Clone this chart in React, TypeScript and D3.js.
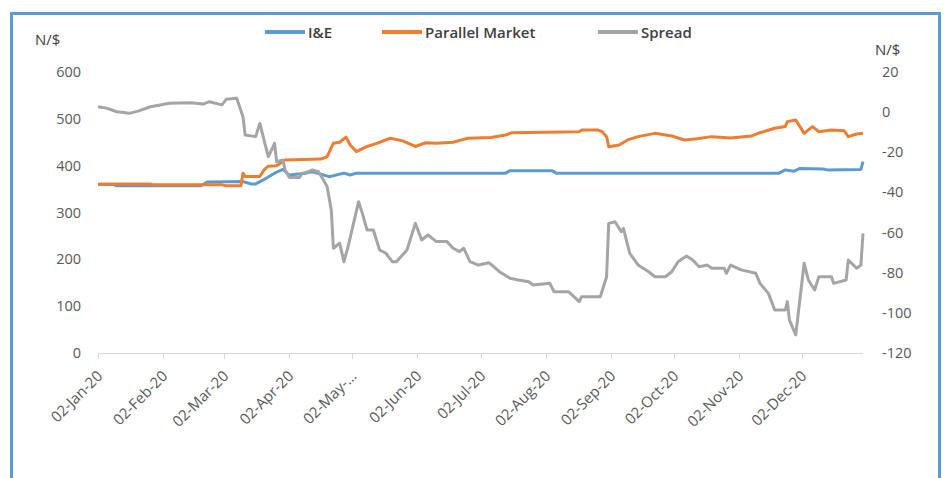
import React from 'react'
import * as d3 from 'd3'

// I&E window rate (N/$), left axis
const ieRate: [string, number][] = [
  ['2020-01-02', 360], ['2020-01-09', 360], ['2020-01-11', 357], ['2020-02-20', 357],
  ['2020-02-23', 365], ['2020-03-11', 366], ['2020-03-15', 361], ['2020-03-17', 361],
  ['2020-03-22', 373], ['2020-03-26', 384], ['2020-03-30', 392], ['2020-04-02', 380],
  ['2020-04-10', 384], ['2020-04-13', 387], ['2020-04-21', 376.5], ['2020-04-28', 384],
  ['2020-05-01', 380], ['2020-05-04', 384], ['2020-07-14', 384], ['2020-07-16', 389.4],
  ['2020-08-05', 389.4], ['2020-08-07', 384], ['2020-11-21', 384], ['2020-11-24', 391],
  ['2020-11-28', 388], ['2020-12-01', 394], ['2020-12-12', 393], ['2020-12-14', 391],
  ['2020-12-30', 392], ['2020-12-31', 408.5]
]

// parallel market rate (N/$), left axis
const parallelRate: [string, number][] = [
  ['2020-01-02', 361], ['2020-01-27', 361], ['2020-01-28', 359], ['2020-03-01', 359],
  ['2020-03-03', 357], ['2020-03-10', 357], ['2020-03-11', 384], ['2020-03-12', 377],
  ['2020-03-19', 377], ['2020-03-21', 391], ['2020-03-23', 399], ['2020-03-27', 400],
  ['2020-03-31', 412], ['2020-04-17', 414], ['2020-04-20', 419], ['2020-04-23', 448],
  ['2020-04-26', 450], ['2020-04-29', 461], ['2020-05-01', 444], ['2020-05-04', 430],
  ['2020-05-09', 441], ['2020-05-14', 448], ['2020-05-20', 458.5], ['2020-05-26', 453],
  ['2020-06-01', 441], ['2020-06-06', 449], ['2020-06-11', 448], ['2020-06-19', 450],
  ['2020-06-23', 455], ['2020-06-26', 458.5], ['2020-07-07', 460], ['2020-07-14', 465.5],
  ['2020-07-17', 470.4], ['2020-08-18', 472.6], ['2020-08-19', 476], ['2020-08-27', 476],
  ['2020-08-29', 472], ['2020-08-31', 462], ['2020-09-01', 440.6], ['2020-09-06', 444],
  ['2020-09-10', 455], ['2020-09-15', 462], ['2020-09-23', 469], ['2020-09-28', 465.5],
  ['2020-10-01', 463.4], ['2020-10-07', 454.8], ['2020-10-13', 457.6], ['2020-10-20', 462],
  ['2020-10-29', 459], ['2020-11-08', 463.4], ['2020-11-12', 470.4], ['2020-11-19', 480],
  ['2020-11-24', 483.4], ['2020-11-25', 494], ['2020-11-29', 497.5], ['2020-12-03', 469],
  ['2020-12-07', 483.4], ['2020-12-10', 472.6], ['2020-12-16', 476], ['2020-12-22', 474.7],
  ['2020-12-24', 462], ['2020-12-28', 467.6], ['2020-12-31', 469]
]

// spread (N/$), right axis
const spread: [string, number][] = [
  ['2020-01-02', 2.7], ['2020-01-06', 2], ['2020-01-11', 0.2], ['2020-01-17', -0.6],
  ['2020-01-21', 0.5], ['2020-01-27', 2.7], ['2020-02-05', 4.4], ['2020-02-15', 4.7],
  ['2020-02-21', 4], ['2020-02-24', 5.2], ['2020-03-01', 3.6], ['2020-03-03', 6.4],
  ['2020-03-08', 6.9], ['2020-03-11', -2.3], ['2020-03-12', -11.4], ['2020-03-17', -12.2],
  ['2020-03-19', -5.6], ['2020-03-23', -22.2], ['2020-03-25', -18], ['2020-03-26', -15.5],
  ['2020-03-27', -24.7], ['2020-03-30', -23.8], ['2020-03-31', -28.8], ['2020-04-02', -32.5],
  ['2020-04-07', -32.5], ['2020-04-08', -30.5], ['2020-04-11', -29.7], ['2020-04-13', -28.8],
  ['2020-04-16', -29.7], ['2020-04-20', -37.1], ['2020-04-22', -48.7], ['2020-04-23', -67.8],
  ['2020-04-26', -65.3], ['2020-04-28', -74.5], ['2020-04-30', -67], ['2020-05-05', -44.6],
  ['2020-05-07', -51.2], ['2020-05-09', -58.7], ['2020-05-12', -58.7], ['2020-05-15', -68.7],
  ['2020-05-18', -70.3], ['2020-05-21', -74.5], ['2020-05-23', -74.5], ['2020-05-28', -68.7],
  ['2020-06-01', -55.4], ['2020-06-04', -63.7], ['2020-06-07', -61.2], ['2020-06-11', -64.5],
  ['2020-06-16', -64.5], ['2020-06-19', -67.8], ['2020-06-22', -69.5], ['2020-06-24', -67.8],
  ['2020-06-27', -74.5], ['2020-07-01', -76.2], ['2020-07-06', -75], ['2020-07-11', -79.5],
  ['2020-07-16', -82.8], ['2020-07-20', -83.6], ['2020-07-25', -84.5], ['2020-07-27', -86.1],
  ['2020-08-04', -85.3], ['2020-08-06', -89.5], ['2020-08-13', -89.5], ['2020-08-18', -94.4],
  ['2020-08-19', -92], ['2020-08-28', -92], ['2020-08-31', -82], ['2020-09-01', -55.4],
  ['2020-09-04', -54.6], ['2020-09-07', -59.6], ['2020-09-08', -57.9], ['2020-09-11', -70.3],
  ['2020-09-15', -76.2], ['2020-09-20', -79.5], ['2020-09-23', -82], ['2020-09-28', -82],
  ['2020-10-01', -79.5], ['2020-10-04', -74.5], ['2020-10-08', -71.7], ['2020-10-11', -73.7],
  ['2020-10-14', -77], ['2020-10-18', -76.2], ['2020-10-20', -77.8], ['2020-10-26', -77.8],
  ['2020-10-27', -80.3], ['2020-10-29', -76.2], ['2020-11-03', -78.6], ['2020-11-10', -80.3],
  ['2020-11-12', -85.3], ['2020-11-16', -90.3], ['2020-11-19', -98.6], ['2020-11-24', -98.6],
  ['2020-11-25', -94.4], ['2020-11-26', -103.6], ['2020-11-29', -111], ['2020-12-03', -75.3],
  ['2020-12-05', -83.6], ['2020-12-08', -88.6], ['2020-12-10', -82], ['2020-12-16', -82],
  ['2020-12-17', -85.3], ['2020-12-23', -83.6], ['2020-12-24', -73.7], ['2020-12-28', -77.8],
  ['2020-12-30', -76.2], ['2020-12-31', -60.4]
]

const xTickDates = ['2020-01-02', '2020-02-02', '2020-03-02', '2020-04-02', '2020-05-02', '2020-06-02',
  '2020-07-02', '2020-08-02', '2020-09-02', '2020-10-02', '2020-11-02', '2020-12-02']
const xTickLabels = ['02-Jan-20', '02-Feb-20', '02-Mar-20', '02-Apr-20', '02-May-\u2026', '02-Jun-20',
  '02-Jul-20', '02-Aug-20', '02-Sep-20', '02-Oct-20', '02-Nov-20', '02-Dec-20']
const leftTicks = [0, 100, 200, 300, 400, 500, 600]
const rightTicks = [-120, -100, -80, -60, -40, -20, 0, 20]

const legendItems = [
  { name: 'I&E', color: '#5B9BD5', x: 265 },
  { name: 'Parallel Market', color: '#ED7D31', x: 382 },
  { name: 'Spread', color: '#A5A5A5', x: 598 }
]

const parse = d3.timeParse('%Y-%m-%d')
const font = "'Open Sans', sans-serif"

const App = () => {
  const width = 947, height = 478
  const plot = { left: 98, right: 863, top: 72, bottom: 353 }

  const x = d3.scaleTime()
    .domain([parse('2020-01-02')!, parse('2020-12-31')!])
    .range([plot.left, plot.right])
  const yL = d3.scaleLinear().domain([0, 600]).range([plot.bottom, plot.top])
  const yR = d3.scaleLinear().domain([-120, 20]).range([plot.bottom, plot.top])

  const lineL = d3.line<[string, number]>()
    .x(d => x(parse(d[0])!))
    .y(d => yL(d[1]))
  const lineR = d3.line<[string, number]>()
    .x(d => x(parse(d[0])!))
    .y(d => yR(d[1]))

  return (
    <div>
      <style>{'body{margin:0}'}</style>
      <svg width={width} height={height} style={{ display: 'block', background: '#fff' }}>
        {/* outer frame */}
        <rect x={11.5} y={13.5} width={928} height={480} fill="none" stroke="#5B9BD5" strokeWidth={3} />

        {/* legend */}
        {legendItems.map(l => (
          <g key={l.name}>
            <line x1={l.x} x2={l.x + 40} y1={32} y2={32} stroke={l.color} strokeWidth={4} />
            <text x={l.x + 43} y={37.5} fontFamily={font} fontWeight={600} fontSize={15} fill="#404040">{l.name}</text>
          </g>
        ))}

        {/* axis titles */}
        <text x={35} y={45} fontFamily={font} fontSize={15} fill="#404040">N/$</text>
        <text x={875} y={55} fontFamily={font} fontSize={15} fill="#404040">N/$</text>

        {/* left axis labels */}
        {leftTicks.map(t => (
          <text key={t} x={81} y={yL(t) + 5} textAnchor="end" fontFamily={font} fontSize={14.5} fill="#595959">{t}</text>
        ))}
        {/* right axis labels */}
        {rightTicks.map(t => (
          <text key={t} x={882} y={yR(t) + 5} fontFamily={font} fontSize={14.5} fill="#595959">{t}</text>
        ))}

        {/* x axis */}
        <line x1={plot.left} x2={plot.right} y1={plot.bottom + 0.5} y2={plot.bottom + 0.5} stroke="#D9D9D9" />
        {xTickDates.map((d, i) => {
          const xp = Math.round(x(parse(d)!)) + 0.5
          return (
            <g key={d}>
              <line x1={xp} x2={xp} y1={plot.bottom} y2={plot.bottom + 6} stroke="#D9D9D9" />
              <text transform={`translate(${xp + 5},${plot.bottom + 24}) rotate(-45)`} textAnchor="end"
                fontFamily={font} fontSize={15} fill="#595959">{xTickLabels[i]}</text>
            </g>
          )
        })}

        {/* series */}
        <path d={lineL(ieRate)!} fill="none" stroke="#5B9BD5" strokeWidth={3} strokeLinejoin="round" />
        <path d={lineL(parallelRate)!} fill="none" stroke="#ED7D31" strokeWidth={3} strokeLinejoin="round" />
        <path d={lineR(spread)!} fill="none" stroke="#A5A5A5" strokeWidth={3} strokeLinejoin="round" />
      </svg>
    </div>
  )
}

export default App
